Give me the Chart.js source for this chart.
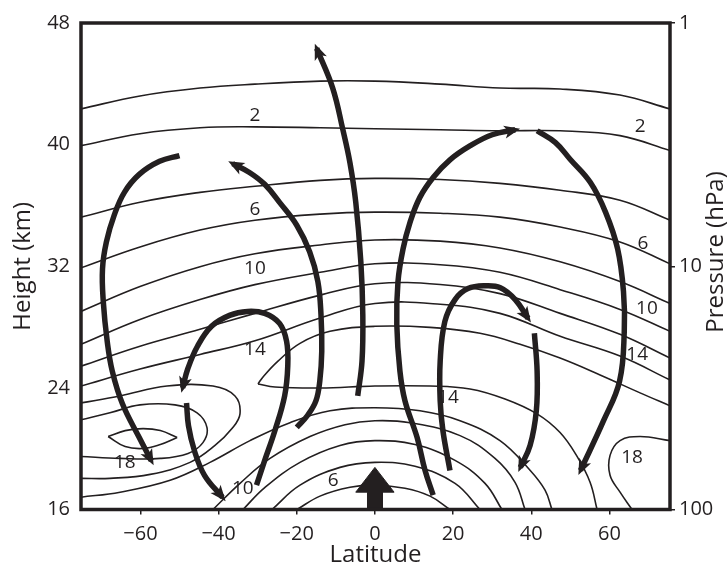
<!DOCTYPE html>
<html>
<head>
<meta charset="utf-8">
<script src="https://cdn.jsdelivr.net/npm/chart.js@4.4.1/dist/chart.umd.min.js"></script>
<style>
  html, body { margin: 0; padding: 0; background: #ffffff; }
  #wrap { width: 727px; height: 570px; position: relative; }
</style>
</head>
<body>
<div id="wrap"><canvas id="c" width="727" height="570"></canvas></div>
<script>
// Axis ticks
const latTicks = [-60, -40, -20, 0, 20, 40, 60];
const heightTicks = [16, 24, 32, 40, 48];
const pressureTicks = [1, 10, 100];

// Ozone contours, points as [latitude, height km]
const contour1 = [[-75.2,42.35],[-60.1,43.2],[-44.75,43.72],[-30.7,43.98],[-14,44.18],[0,44.18],[16.7,43.98],[32,43.72],[47.4,43.66],[62.7,43.26],[75.5,42.35]];
const contour2 = [[-75.2,39.93],[-60.1,40.72],[-44.75,41.11],[-30.7,41.17],[-14,41.11],[0,41.04],[16.7,40.98],[32,40.91],[47.4,40.91],[62.7,40.59],[75.5,39.61]];
const contour4 = [[-75.2,35.23],[-60.1,36.21],[-44.75,36.86],[-30.7,37.26],[-14,37.65],[0,37.78],[16.7,37.71],[32,37.45],[47.4,37.0],[62.7,36.34],[75.5,35.03]];
const contour6 = [[-75.2,31.9],[-60.1,33.27],[-44.75,34.38],[-30.7,35.03],[-14,35.43],[0,35.56],[16.7,35.49],[32,35.23],[47.4,34.58],[62.7,33.6],[75.5,32.16]];
const contour8 = [[-75.2,29.03],[-60.1,30.66],[-44.75,31.97],[-30.7,32.82],[-14,33.4],[0,33.73],[16.7,33.65],[32,33.2],[47.4,32.29],[62.7,30.99],[75.5,29.55]];
const contour10 = [[-75.2,26.87],[-60.1,28.5],[-44.75,29.81],[-30.7,30.79],[-14,31.6],[0,32.16],[16.7,32.1],[32,31.6],[47.4,30.46],[62.7,29.16],[75.5,27.72]];
const contour12 = [[-75.2,25.43],[-60.1,26.74],[-44.75,27.85],[-30.7,28.9],[-14,30.1],[0,30.85],[16.7,30.8],[32,30.2],[47.4,28.9],[62.7,27.52],[75.5,25.96]];
const contour14 = [[-75.2,24.12],[-60.1,25.24],[-44.75,26.2],[-30.7,27.1],[-14,28.6],[0,29.55],[16.7,29.5],[32,28.9],[47.4,27.39],[62.7,26.09],[75.5,24.52]];
// 16 contour folding round the tropical maximum (upper and lower branch meet at the tip)
const contour16Upper = [[75.5,22.82],[67.84,23.67],[57.61,24.85],[47.37,25.96],[37.13,26.87],[26.89,27.59],[14.1,27.98],[0,28.05],[-11.49,27.72],[-19.17,26.93],[-24.8,25.76],[-28.63,24.72],[-29.91,24.26]];
const contour16Lower = [[-29.91,24.26],[-25.56,24.06],[-14.05,23.99],[0,24.12],[14.1,24.12],[24.33,23.93],[33.29,23.27],[41.48,22.29],[47.37,21.06],[51.72,19.49],[55.05,17.79],[56.84,16]];
// Southern high-latitude maximum
const contour16South = [[-75.2,23.01],[-65.2,23.47],[-53.2,24.12],[-41.43,24.12],[-35.8,23.47],[-34.52,22.29],[-36.57,21.32],[-40.92,20.21],[-47.31,19.1],[-57.5,18.31],[-67.8,18.05],[-75.2,18.05]];
const contour18South = [[-75.2,21.9],[-67.8,22.36],[-60.1,22.88],[-51.15,22.88],[-45.5,22.36],[-42.96,21.38],[-44,20.4],[-47.8,19.69],[-54.9,19.36],[-65.2,19.36],[-75.2,19.49]];
const contour20Top = [[-68.26,20.8],[-63.9,21.19],[-59.3,21.32],[-54.9,21.19],[-50.6,20.73]];
const contour20Bottom = [[-50.6,20.73],[-54.9,20.27],[-59.3,20.01],[-63.9,20.14],[-68.26,20.8]];
// Northern lower-stratosphere maximum
const contour18North = [[75.5,20.53],[67.84,20.8],[62.72,20.53],[60.16,19.56],[60.16,18.25],[62.72,17.14],[65.79,16]];
// Tropical minimum in the lower stratosphere
const contour14Dome = [[-75.2,16.81],[-65.2,17.14],[-52.4,17.92],[-42.19,19.1],[-31.96,20.53],[-21.73,21.71],[-11.49,22.49],[0,22.69],[11.54,22.49],[21.78,21.84],[32,20.53],[39.69,18.58],[43.53,17.27],[45.3,16]];
const contour12Dome = [[-41.43,16],[-34.52,17.72],[-26.84,19.36],[-16.61,20.8],[-7.65,21.58],[0,21.84],[8.98,21.71],[21.78,20.86],[30.73,19.36],[35.85,17.79],[38.41,16]];
const contour10Dome = [[-33.75,16],[-28.12,17.46],[-19.17,19.1],[-8.93,20.21],[0,20.53],[10.26,20.27],[20.5,19.23],[28.17,17.72],[32.5,16]];
const contour8Dome = [[-26.33,16],[-19.17,17.6],[-8.93,18.77],[0,19.1],[10.26,18.84],[20.5,17.72],[26.89,16]];
const contour6Dome = [[-19.93,16],[-14.05,16.88],[-6.37,17.46],[0,17.6],[7.7,17.4],[14.1,16.88],[19.22,16]];

// Circulation branches, points as [latitude, height km] in the direction of flow
const arrowA = [[-50,39.28],[-55.1,38.9],[-60.3,38.04],[-64.1,36.86],[-66.7,35.36],[-68.7,33.6],[-69.7,31.83],[-69.5,29.68],[-68.5,27.07],[-67.2,25.1],[-64.6,22.95],[-60.3,20.73],[-57.2,19.2]];
const arrowB = [[-20,21.4],[-17.2,22.2],[-15.1,23.14],[-14.1,24.45],[-13.6,26.4],[-13.8,28.83],[-14.6,31.0],[-16.7,32.95],[-20,34.7],[-24.4,36.2],[-28.2,37.39],[-32.1,38.17],[-36.4,38.75]];
const arrowC = [[-4.4,23.47],[-3.3,25.76],[-3.1,28.83],[-3.6,32.29],[-4.9,36.21],[-6.4,38.82],[-8.2,40.98],[-10.8,43.72],[-14.9,46.33]];
const arrowD = [[14.9,16.94],[12.8,18.6],[10.8,20.73],[7.7,23.14],[6.4,25.1],[5.6,28.17],[5.9,30.98],[7.2,33.14],[9,34.9],[11.5,36.53],[14.9,37.84],[19.2,39.0],[24.4,39.93],[30,40.65],[35.9,40.98]];
const arrowE = [[41.5,40.91],[46.2,40.13],[50,39.02],[55.1,37.52],[59,35.56],[62.1,33.14],[63.6,30.33],[63.8,27.72],[62.6,24.45],[58.5,21.84],[52.6,18.57]];
const arrowF = [[19.2,18.57],[17.4,21.18],[16.7,23.14],[16.7,25.76],[17.9,28.37],[20.5,29.81],[23.8,30.53],[28.2,30.72],[32.1,30.59],[35.9,29.81],[39.2,28.57]];
const arrowG = [[40.8,27.59],[41.5,25.1],[41.3,22.5],[39.7,20.21],[37.2,18.77]];
const arrowH = [[-30.3,17.6],[-28.2,19.23],[-25.6,21.18],[-23.1,23.47],[-22.3,25.43],[-22.6,27.07],[-24.4,28.24],[-28.2,28.9],[-32.6,29.03],[-37.2,28.77],[-41.8,28.05],[-45.4,26.74],[-47.9,25.24],[-49.2,24.0]];
const arrowI = [[-48.2,23.01],[-47.7,21.51],[-46.2,19.88],[-43.6,18.25],[-39,16.8]];

// Tropical upwelling block arrow outline
const upwelling = [[-1.9,16],[-1.9,17.14],[-4.9,17.14],[0,18.77],[4.9,17.14],[1.9,17.14],[1.9,16],[-1.9,16]];

// Contour value labels: [latitude, height km, text]
const contourLabels = [
  [-30.7,41.9,'2'],[67.9,41.17,'2'],
  [-30.7,35.75,'6'],[68.6,33.47,'6'],
  [-30.7,31.83,'10'],[69.6,29.2,'10'],
  [-30.7,26.55,'14'],[67.1,26.2,'14'],[18.7,23.34,'14'],
  [-64,19.1,'18'],[65.8,19.42,'18'],
  [-10.7,17.92,'6'],[-33.8,17.4,'10']
];

const contours = [contour1, contour2, contour4, contour6, contour8, contour10, contour12, contour14,
  contour16Upper, contour16Lower, contour16South, contour18South, contour20Top, contour20Bottom,
  contour18North, contour14Dome, contour12Dome, contour10Dome, contour8Dome, contour6Dome];
const arrows = [arrowA, arrowB, arrowC, arrowD, arrowE, arrowF, arrowG, arrowH, arrowI];

const INK = '#231f20';
const FONT = '"Open Sans", "Liberation Sans", sans-serif';
const toXY = arr => arr.map(p => ({x: p[0], y: p[1]}));

const datasets = [];
contours.forEach(c => datasets.push({
  data: toXY(c), borderColor: INK, borderWidth: 1.6, tension: 0.4,
  pointRadius: 0, fill: false, kind: 'contour', order: 3
}));
arrows.forEach(a => datasets.push({
  data: toXY(a), borderColor: INK, borderWidth: 5.5, tension: 0.4,
  pointRadius: 0, fill: false, kind: 'arrow', order: 2
}));
datasets.push({
  data: toXY(upwelling), borderColor: INK, backgroundColor: INK, borderWidth: 1,
  pointRadius: 0, fill: 'shape', tension: 0, kind: 'block', order: 1
});

// Arrowheads at the end of each circulation branch
const arrowHeads = {
  id: 'arrowHeads',
  afterDatasetsDraw(chart) {
    const ctx = chart.ctx;
    const xs = chart.scales.x, ys = chart.scales.y;
    ctx.save();
    chart.data.datasets.forEach(ds => {
      if (ds.kind !== 'arrow') return;
      const n = ds.data.length;
      const p1 = ds.data[n - 1], p0 = ds.data[n - 2];
      const x1 = xs.getPixelForValue(p1.x), y1 = ys.getPixelForValue(p1.y);
      const x0 = xs.getPixelForValue(p0.x), y0 = ys.getPixelForValue(p0.y);
      const a = Math.atan2(y1 - y0, x1 - x0);
      const L = 14, W = 6.5;
      ctx.setTransform(1, 0, 0, 1, x1, y1);
      ctx.rotate(a);
      ctx.beginPath();
      ctx.moveTo(5, 0);
      ctx.lineTo(-L + 3, -W);
      ctx.lineTo(-L + 7, 0);
      ctx.lineTo(-L + 3, W);
      ctx.closePath();
      ctx.fillStyle = INK;
      ctx.fill();
    });
    ctx.restore();
  }
};

// Contour value labels and the right-hand axis title
const texts = {
  id: 'texts',
  afterDraw(chart) {
    const ctx = chart.ctx;
    const xs = chart.scales.x, ys = chart.scales.y;
    ctx.save();
    ctx.font = '19px ' + FONT;
    ctx.fillStyle = INK;
    ctx.textAlign = 'center';
    ctx.textBaseline = 'middle';
    contourLabels.forEach(l => {
      ctx.fillText(l[2], xs.getPixelForValue(l[0]), ys.getPixelForValue(l[1]));
    });
    ctx.translate(716, 252);
    ctx.rotate(-Math.PI / 2);
    ctx.font = '24px ' + FONT;
    ctx.fillText('Pressure (hPa)', 0, 0);
    ctx.restore();
  }
};

// Heavy frame around the plot area
const frame = {
  id: 'frame',
  afterDraw(chart) {
    const a = chart.chartArea, ctx = chart.ctx;
    ctx.save();
    ctx.strokeStyle = INK;
    ctx.lineWidth = 3.5;
    ctx.strokeRect(a.left, a.top, a.right - a.left, a.bottom - a.top);
    ctx.restore();
  }
};

new Chart(document.getElementById('c'), {
  type: 'line',
  data: { datasets },
  options: {
    responsive: false,
    animation: false,
    events: [],
    layout: { padding: { top: 19.5, right: 0, bottom: 0, left: 0 } },
    plugins: { legend: { display: false }, tooltip: { enabled: false } },
    scales: {
      x: {
        type: 'linear', min: -75.2, max: 75.5,
        afterBuildTicks: s => { s.ticks = latTicks.map(v => ({value: v})); },
        afterFit: s => { s.height = 60.5; },
        ticks: { color: INK, font: { family: FONT, size: 20 }, padding: 8, maxRotation: 0,
                 callback: v => (v < 0 ? '\u2212' + Math.abs(v) : String(v)) },
        grid: { drawOnChartArea: false, color: INK, tickLength: 5, lineWidth: 1.5 },
        border: { display: false },
        title: { display: true, text: 'Latitude', color: INK, font: { family: FONT, size: 24 }, padding: { top: 0, bottom: 0 } }
      },
      y: {
        type: 'linear', position: 'left', min: 16, max: 48,
        afterBuildTicks: s => { s.ticks = heightTicks.map(v => ({value: v})); },
        afterFit: s => { s.width = 81; },
        ticks: { color: INK, font: { family: FONT, size: 20 }, padding: 11 },
        grid: { display: false, drawTicks: false },
        border: { display: false },
        title: { display: true, text: 'Height (km)', color: INK, font: { family: FONT, size: 24 }, padding: { top: 9, bottom: 0 } }
      },
      p: {
        type: 'logarithmic', position: 'right', min: 1, max: 100, reverse: true,
        afterBuildTicks: s => { s.ticks = pressureTicks.map(v => ({value: v})); },
        afterFit: s => { s.width = 57; },
        ticks: { color: INK, font: { family: FONT, size: 20 }, padding: 4, callback: v => String(v) },
        grid: { drawOnChartArea: false, color: INK, tickLength: 5, lineWidth: 1.5 },
        border: { display: false },
        title: { display: false }
      }
    }
  },
  plugins: [arrowHeads, texts, frame]
});
</script>
</body>
</html>
